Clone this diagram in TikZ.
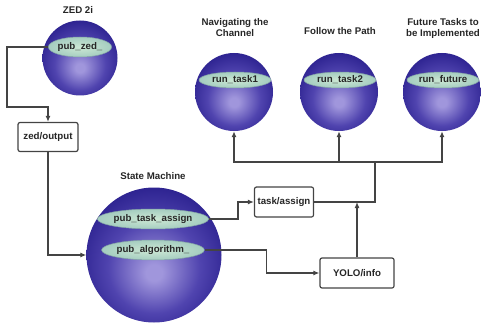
\documentclass[tikz,border=0pt]{standalone}
\usepackage{fontspec}
\setmainfont{Liberation Sans}
\usetikzlibrary{arrows.meta,calc,shapes.geometric}
\definecolor{sphlight}{RGB}{160,150,220}
\definecolor{sphmid}{RGB}{80,68,175}
\definecolor{sphdark}{RGB}{40,30,140}
\definecolor{sphedge}{RGB}{20,12,98}
\definecolor{elin}{RGB}{205,232,212}
\definecolor{elout}{RGB}{165,205,192}
\definecolor{elline}{RGB}{130,160,165}
\definecolor{linec}{RGB}{68,68,68}
\pgfdeclareradialshading{sph}{\pgfpoint{0bp}{-7bp}}{color(0bp)=(sphlight); color(3bp)=(sphlight); color(17bp)=(sphmid); color(30bp)=(sphdark); color(38bp)=(sphedge); color(50bp)=(sphedge)}
\tikzset{
  lbl/.style={font=\fontsize{9.7}{11}\selectfont\bfseries, text=black!85},
  sphere/.style={circle, shading=sph, inner sep=0pt},
  topic/.style={ellipse, inner color=elin, outer color=elout, draw=elline, line width=0.5pt, inner sep=0pt, lbl},
  box/.style={draw=linec, line width=1.2pt, rounded corners=2pt, fill=white, inner sep=0pt, lbl},
  ttl/.style={lbl, align=center},
  arr/.style={draw=linec, line width=1.3pt, -{Latex[length=6pt,width=5pt]}},
  ln/.style={draw=linec, line width=1.3pt}
}
\begin{document}
\begin{tikzpicture}[x=1pt,y=-1pt]
\useasboundingbox (0,0) rectangle (481,323);
% spheres
\node[sphere, minimum size=75] (zed) at (80,58) {};
\node[sphere, minimum size=135] (sm) at (154,255) {};
\node[sphere, minimum size=78] (s1) at (234,92) {};
\node[sphere, minimum size=78] (s2) at (339,92) {};
\node[sphere, minimum size=78] (s3) at (442,92) {};
% topics
\node[topic, minimum width=60, minimum height=20] (ezed) at (80,47) {pub\_zed\_};
\node[topic, minimum width=89, minimum height=20] (eta) at (153,219) {pub\_task\_assign};
\node[topic, minimum width=89, minimum height=20] (eal) at (153,250) {pub\_algorithm\_};
\node[topic, minimum width=72, minimum height=16] (e1) at (235,80) {run\_task1};
\node[topic, minimum width=72, minimum height=16] (e2) at (340,80) {run\_task2};
\node[topic, minimum width=72, minimum height=16] (e3) at (443,80) {run\_future};
% titles
\node[ttl] (tzed) at (78,10) {ZED 2i};
\node[ttl] (tsm) at (153,176) {State Machine};
\node[ttl] (t1) at (235,28) {Navigating the\\Channel};
\node[ttl] (t2) at (340,31) {Follow the Path};
\node[ttl] (t3) at (443,28) {Future Tasks to\\be Implemented};
% boxes
\node[box, minimum width=60, minimum height=29] (zout) at (48,137) {zed/output};
\node[box, minimum width=59, minimum height=30] (ta) at (284,202) {task/assign};
\node[box, minimum width=74, minimum height=30] (yolo) at (357,273) {YOLO/info};
\coordinate (bus) at (375,162);
% connectors
\draw[arr] (ezed.west) -| (7,107) -| (zout.north);
\draw[arr] (zout.south) |- (sm.west);
\draw[arr] (eta.east) -- ++(29,0) |- (ta.west);
\draw[arr] (eal.east) -- ++(62,0) |- (yolo.west);
\draw[ln] (ta.east) -| (bus);
\draw[arr] (bus) -| (s1.south);
\draw[arr] (bus) -| (s3.south);
\draw[arr] (s2.south |- bus) -- (s2.south);
\draw[arr] (yolo.north) -- (yolo.north |- ta.east);
\end{tikzpicture}
\end{document}
